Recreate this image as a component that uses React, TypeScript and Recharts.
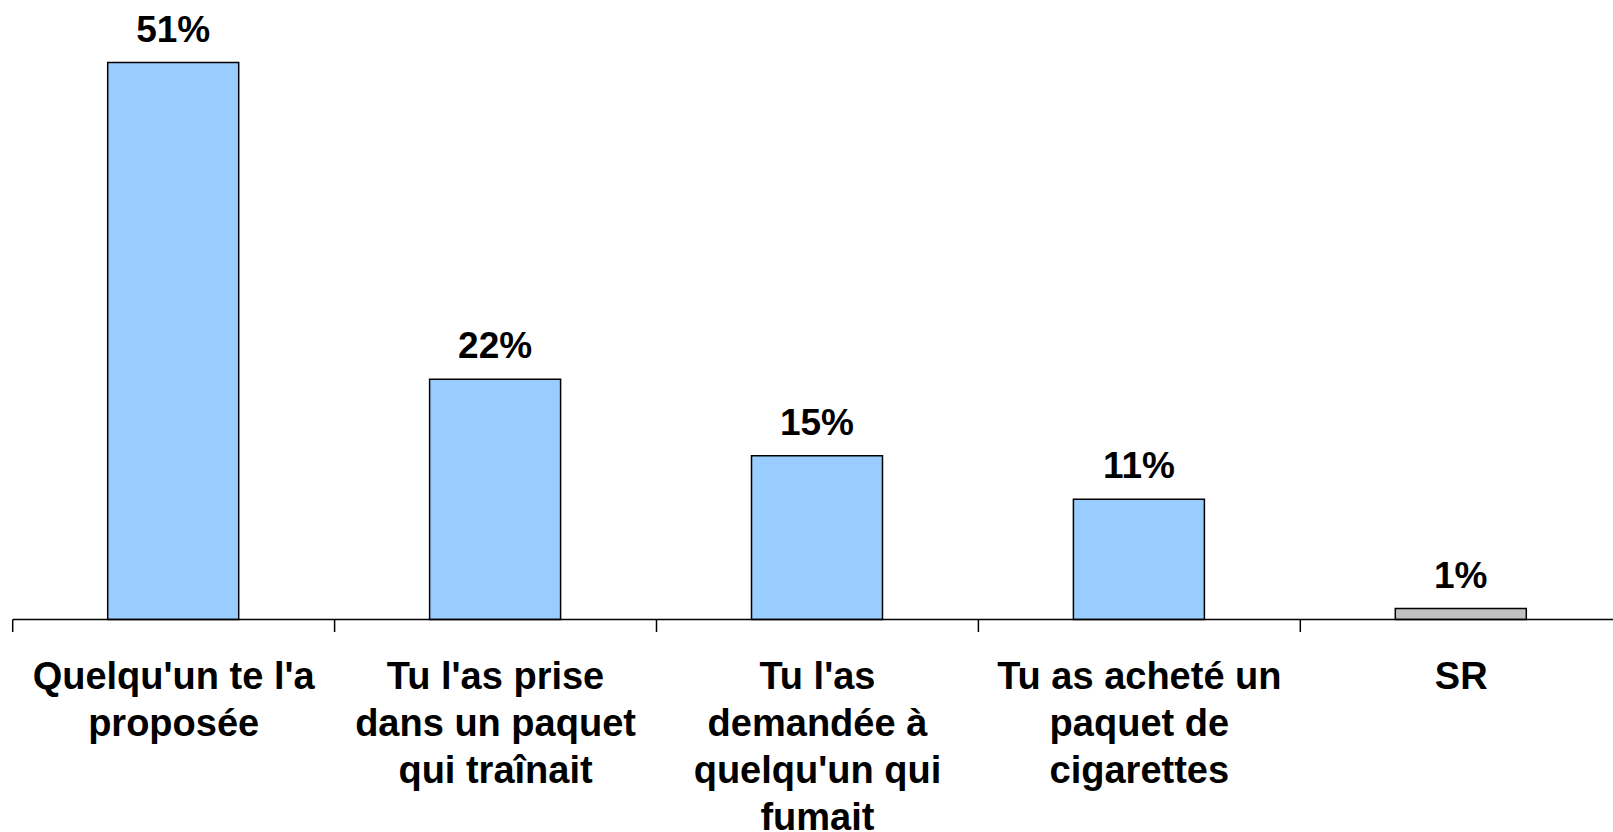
import { BarChart, Bar, XAxis, YAxis, Cell, LabelList } from "recharts";

const categories = [
  "Quelqu'un te l'a\nproposée",
  "Tu l'as prise\ndans un paquet\nqui traînait",
  "Tu l'as\ndemandée à\nquelqu'un qui\nfumait",
  "Tu as acheté un\npaquet de\ncigarettes",
  "SR",
];
const shares = [51, 22, 15, 11, 1];

const data = categories.map((name, i) => ({ name, value: shares[i] }));

const FONT = "'Liberation Sans', Arial, sans-serif";
const BAND = 1609.5 / categories.length;

const CategoryTick = (props: any) => {
  const { x, y, payload } = props;
  const half = payload?.offset ?? BAND / 2;
  const lines = String(payload.value).split("\n");
  return (
    <g>
      <line
        x1={x - half}
        x2={x - half}
        y1={y - 8}
        y2={y + 4.5}
        stroke="#000"
        strokeWidth={1.5}
      />
      <text
        x={x}
        y={y + 61}
        textAnchor="middle"
        fontFamily={FONT}
        fontWeight="bold"
        fontSize={38}
        fill="#000"
      >
        {lines.map((line, i) => (
          <tspan key={i} x={x} dy={i === 0 ? 0 : 47}>
            {line}
          </tspan>
        ))}
      </text>
    </g>
  );
};

const ValueLabel = (props: any) => {
  const { x, y, width, value } = props;
  return (
    <text
      x={x + width / 2}
      y={y - 21}
      textAnchor="middle"
      fontFamily={FONT}
      fontWeight="bold"
      fontSize={37}
      fill="#000"
    >
      {`${value}%`}
    </text>
  );
};

export default function App() {
  return (
    <div
      style={{
        position: "absolute",
        left: 0,
        top: 0,
        width: 1613,
        height: 832,
        overflow: "hidden",
        background: "#fff",
      }}
    >
      <BarChart
        width={1630}
        height={832}
        data={data}
        margin={{ top: 62.5, right: 7.8, bottom: 32.5, left: 12.7 }}
        barSize={131}
      >
        <XAxis
          dataKey="name"
          height={180}
          interval={0}
          axisLine={{ stroke: "#000", strokeWidth: 1.5 }}
          tickLine={false}
          tick={<CategoryTick />}
        />
        <YAxis hide domain={[0, 51]} />
        <Bar
          dataKey="value"
          stroke="#000"
          strokeWidth={1.5}
          isAnimationActive={false}
        >
          {data.map((d) => (
            <Cell key={d.name} fill={d.name === "SR" ? "#C0C0C0" : "#99CCFF"} />
          ))}
          <LabelList dataKey="value" content={<ValueLabel />} />
        </Bar>
      </BarChart>
    </div>
  );
}
